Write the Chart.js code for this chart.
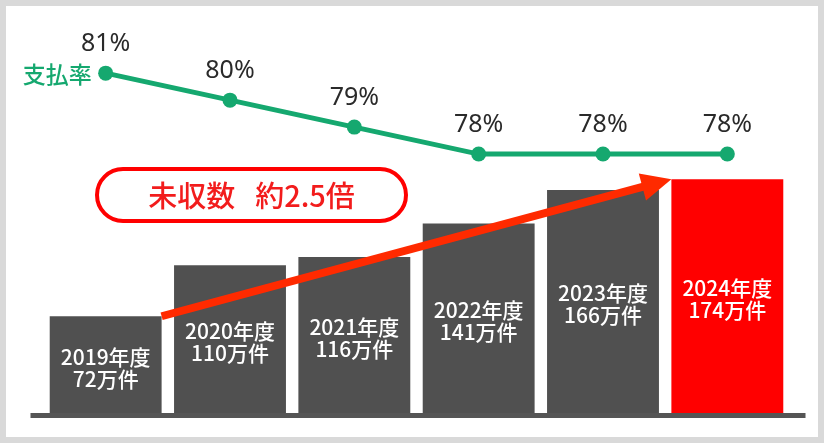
<!DOCTYPE html>
<html lang="ja">
<head>
<meta charset="utf-8">
<script src="https://cdn.jsdelivr.net/npm/chart.js@4.4.1/dist/chart.umd.min.js"></script>
<style>
  html, body { margin: 0; padding: 0; background: #d9d9d9; }
  #panel { position: absolute; left: 6px; top: 6px; width: 812px; height: 431px; background: #fff; }
  #wrap { position: absolute; left: 0; top: 0; width: 824px; height: 443px; }
</style>
</head>
<body>
<div id="panel"></div>
<div id="wrap"><canvas id="chart" width="824" height="443"></canvas></div>
<script>
// データ
const years = ['2019年度', '2020年度', '2021年度', '2022年度', '2023年度', '2024年度'];
const counts = [72, 110, 116, 141, 166, 174];   // 未収数（万件）
const countUnit = '万件';
const payRates = [81, 80, 79, 78, 78, 78];      // 支払率（%）
const rateLabel = '支払率';
const calloutLeft = '未収数';
const calloutRight = '約2.5倍';

const GREEN = '#15a86f';
const GRAY = '#505050';
const RED = '#ff0000';
const barColors = counts.map((_, i) => i === counts.length - 1 ? RED : GRAY);

// ラベル・矢印・吹き出しを描くプラグイン
const overlayPlugin = {
  id: 'overlay',
  beforeDatasetsDraw(chart) {
    const { ctx, chartArea } = chart;
    // 下の基線
    ctx.save();
    ctx.fillStyle = '#555555';
    ctx.fillRect(chartArea.left - 13, chartArea.bottom, chartArea.right - chartArea.left + 29, 5);
    ctx.restore();
  },
  afterDatasetsDraw(chart) {
    const { ctx, chartArea } = chart;
    const bars = chart.getDatasetMeta(0).data;
    const pts = chart.getDatasetMeta(1).data;

    ctx.save();
    ctx.textAlign = 'center';
    ctx.textBaseline = 'middle';

    // 棒の中のラベル
    ctx.fillStyle = '#ffffff';
    ctx.font = '500 21px "Noto Sans CJK JP"';
    bars.forEach((b, i) => {
      const mid = (b.y + b.base) / 2 + 3;
      ctx.fillText(years[i], b.x, mid - 11);
      ctx.fillText(counts[i] + countUnit, b.x, mid + 11);
    });

    // 支払率ラベル
    ctx.fillStyle = '#2a2a2a';
    ctx.font = '25px "Noto Sans"';
    pts.forEach((p, i) => {
      ctx.fillText(payRates[i] + '%', p.x, p.y - 29);
    });

    ctx.fillStyle = GREEN;
    ctx.font = '500 23px "Noto Sans CJK JP"';
    ctx.textAlign = 'right';
    ctx.fillText(rateLabel, pts[0].x - 14, pts[0].y + 1);

    // 矢印（最初の棒の右上から最後の棒の左上へ）
    const a = bars[0];
    const z = bars[bars.length - 1];
    const x0 = a.x + a.width / 2, y0 = a.y;
    const x1 = z.x - z.width / 2, y1 = z.y;
    const ang = Math.atan2(y1 - y0, x1 - x0);
    const headLen = 30, headHalf = 14;
    const bx = x1 - headLen * Math.cos(ang), by = y1 - headLen * Math.sin(ang);
    ctx.strokeStyle = '#ff2a00';
    ctx.fillStyle = '#ff2a00';
    ctx.lineWidth = 8;
    ctx.beginPath();
    ctx.moveTo(x0, y0);
    ctx.lineTo(bx + 2 * Math.cos(ang), by + 2 * Math.sin(ang));
    ctx.stroke();
    ctx.beginPath();
    ctx.moveTo(x1, y1);
    ctx.lineTo(bx + headHalf * Math.sin(ang), by - headHalf * Math.cos(ang));
    ctx.lineTo(bx - headHalf * Math.sin(ang), by + headHalf * Math.cos(ang));
    ctx.closePath();
    ctx.fill();

    // 吹き出し
    const cx = chartArea.left + 53.5, cy = chartArea.top + 139;
    const cw = 309, ch = 52;
    ctx.fillStyle = '#ffffff';
    ctx.strokeStyle = RED;
    ctx.lineWidth = 4;
    ctx.beginPath();
    ctx.roundRect(cx, cy, cw, ch, ch / 2);
    ctx.fill();
    ctx.stroke();
    ctx.fillStyle = '#f21c1c';
    ctx.font = '500 29px "Noto Sans CJK JP"';
    const gap = 20;
    const wl = ctx.measureText(calloutLeft).width;
    const wr = ctx.measureText(calloutRight).width;
    const tx = cx + cw / 2 - (wl + gap + wr) / 2;
    ctx.textAlign = 'left';
    ctx.fillText(calloutLeft, tx, cy + ch / 2 + 1);
    ctx.fillText(calloutRight, tx + wl + gap, cy + ch / 2 + 1);

    ctx.restore();
  }
};

const ctx = document.getElementById('chart').getContext('2d');
const chart = new Chart(ctx, {
  type: 'bar',
  data: {
    labels: years,
    datasets: [
      {
        type: 'bar',
        data: counts,
        backgroundColor: barColors,
        borderWidth: 0,
        barPercentage: 1,
        categoryPercentage: 0.9,
        yAxisID: 'y',
        order: 2
      },
      {
        type: 'line',
        data: payRates,
        borderColor: GREEN,
        backgroundColor: GREEN,
        borderWidth: 5,
        pointRadius: 7.5,
        pointBorderWidth: 0,
        pointBackgroundColor: GREEN,
        tension: 0,
        yAxisID: 'y2',
        order: 1,
        clip: false
      }
    ]
  },
  options: {
    responsive: false,
    animation: false,
    layout: {
      padding: { left: 43.5, right: 34.5, top: 30, bottom: 30 }
    },
    plugins: {
      legend: { display: false },
      tooltip: { enabled: false }
    },
    scales: {
      x: { display: false },
      y: { display: false, min: 0, max: 285 },
      y2: { display: false, min: 68.4, max: 82.6 }
    }
  },
  plugins: [overlayPlugin]
});
</script>
</body>
</html>
